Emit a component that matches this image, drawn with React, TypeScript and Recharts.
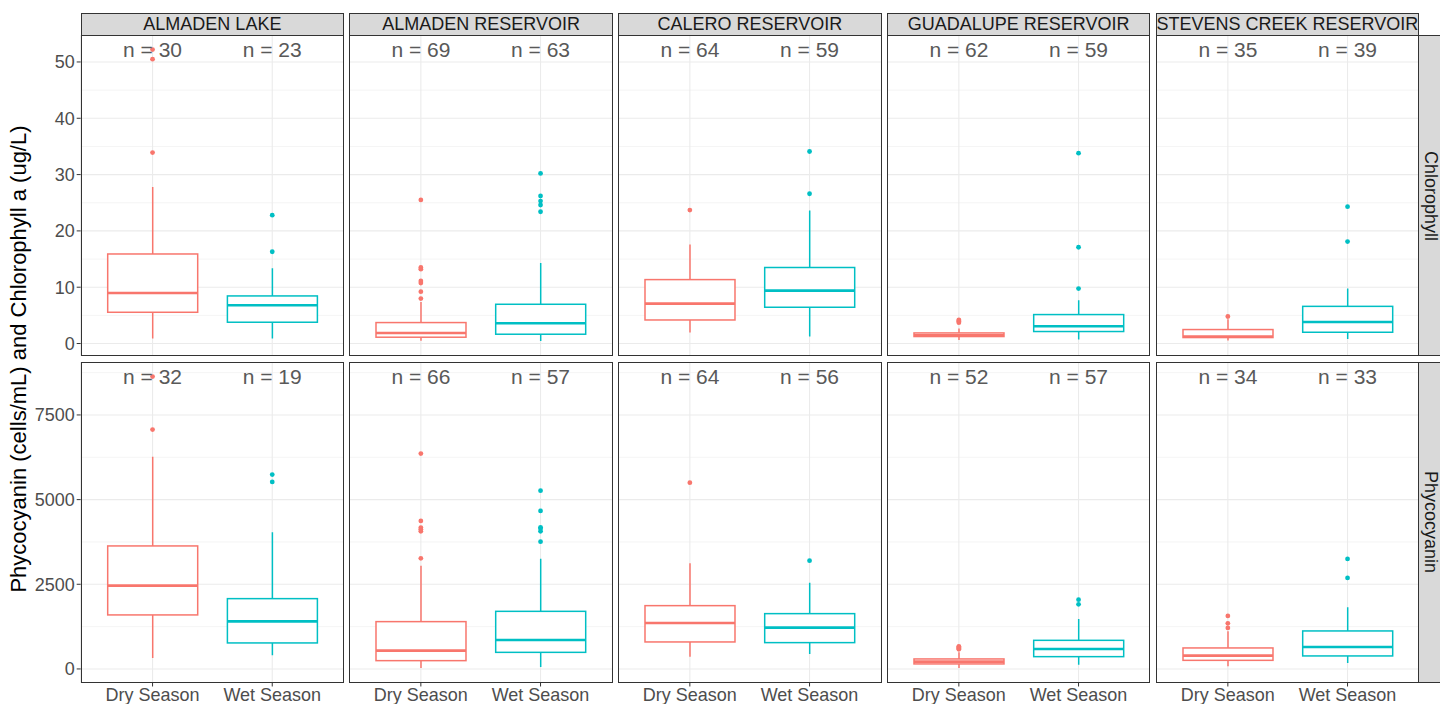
import React from "react";
import { ComposedChart, Bar, Scatter, XAxis, YAxis, CartesianGrid } from "recharts";

const sites = ["ALMADEN LAKE", "ALMADEN RESERVOIR", "CALERO RESERVOIR", "GUADALUPE RESERVOIR", "STEVENS CREEK RESERVOIR"];
const seasons = ["Dry Season", "Wet Season"];
const measures = ["Chlorophyll", "Phycocyanin"];

// Chlorophyll a (ug/L): one [dry, wet] pair per site
const chlLower = [[0.9, 0.9], [0.5, 0.46], [1.95, 1.24], [0.64, 0.71], [0.53, 0.82]];
const chlQ1 = [[5.55, 3.78], [1.12, 1.65], [4.18, 6.44], [1.24, 2.13], [1.06, 2.0]];
const chlMedian = [[8.97, 6.8], [1.88, 3.6], [7.09, 9.4], [1.47, 3.07], [1.24, 3.83]];
const chlQ3 = [[15.9, 8.45], [3.72, 6.97], [11.35, 13.5], [1.88, 5.14], [2.48, 6.6]];
const chlUpper = [[27.8, 13.35], [7.38, 14.3], [17.6, 23.6], [2.66, 7.68], [4.3, 9.75]];
const chlOutliers = [
  [[33.9, 50.5, 52.2], [16.3, 22.8]],
  [[7.98, 9.2, 10.75, 11.1, 13.2, 13.5, 25.5], [23.4, 24.6, 25.3, 26.2, 30.2]],
  [[23.7], [26.6, 34.1]],
  [[3.7, 3.9, 4.05, 4.2], [9.75, 17.1, 33.8]],
  [[4.8], [18.1, 24.3]],
];
const chlCounts = [[30, 23], [69, 63], [64, 59], [62, 59], [35, 39]];

// Phycocyanin (cells/mL)
const phyLower = [[325, 402], [30, 59], [363, 443], [30, 127], [77, 177]];
const phyQ1 = [[1595, 768], [245, 490], [797, 777], [148, 363], [254, 384]];
const phyMedian = [[2460, 1406], [540, 856], [1358, 1220], [216, 590], [393, 650]];
const phyQ3 = [[3632, 2076], [1397, 1701], [1869, 1633], [295, 845], [620, 1122]];
const phyUpper = [[6269, 4034], [3050, 3257], [3118, 2548], [490, 1476], [1110, 1819]];
const phyOutliers = [
  [[7067, 8633], [5522, 5738]],
  [[3266, 4063, 4122, 4173, 4370, 6358], [3759, 4063, 4143, 4182, 4666, 5265]],
  [[5501], [3198]],
  [[580, 610, 640, 667], [1908, 2046]],
  [[1211, 1347, 1565], [2687, 3248]],
];
const phyCounts = [[32, 19], [66, 57], [64, 56], [52, 57], [34, 33]];

const chlTicks = [0, 10, 20, 30, 40, 50];
const chlMinorTicks = [5, 15, 25, 35, 45];
const phyTicks = [0, 2500, 5000, 7500];
const phyMinorTicks = [1250, 3750, 6250, 8750];

const stats = [
  { lower: chlLower, q1: chlQ1, median: chlMedian, q3: chlQ3, upper: chlUpper, outliers: chlOutliers, counts: chlCounts, ticks: chlTicks, minor: chlMinorTicks },
  { lower: phyLower, q1: phyQ1, median: phyMedian, q3: phyQ3, upper: phyUpper, outliers: phyOutliers, counts: phyCounts, ticks: phyTicks, minor: phyMinorTicks },
];

const COLORS = ["#F8766D", "#00BFC4"];
const FONT = "'Liberation Sans', Arial, Helvetica, sans-serif";
const LEFT = 80.7;
const PANEL_W = 263.4;
const COL_STEP = 268.75;
const PANEL_H = 320.5;
const ROW_TOP = [35.3, 362.2];
const STRIP_TOP = 12.5;
const X_AXIS_H = 22;

// row-wide scale: data range padded by 5% on each side, like ggplot
function rowExtent(m: number) {
  const s = stats[m];
  const all: number[] = [];
  s.lower.forEach((p) => all.push(...p));
  s.upper.forEach((p) => all.push(...p));
  s.outliers.forEach((p) => p.forEach((o) => all.push(...o)));
  const lo = Math.min(...all);
  const hi = Math.max(...all);
  const pad = (hi - lo) * 0.05;
  return { domain: [lo - pad, hi + pad], top: hi };
}

const BoxShape = (props: any) => {
  const { x, y, width, height, payload, index } = props;
  const top = Math.min(y, y + height);
  const bottom = Math.max(y, y + height);
  const toY = (v: number) =>
    bottom - ((v - payload.lower) / (payload.upper - payload.lower)) * (bottom - top);
  const cx = x + width / 2;
  const color = COLORS[index % 2];
  return (
    <g stroke={color} fill="none">
      <line x1={cx} x2={cx} y1={toY(payload.upper)} y2={toY(payload.q3)} strokeWidth={1.5} />
      <line x1={cx} x2={cx} y1={toY(payload.q1)} y2={toY(payload.lower)} strokeWidth={1.5} />
      <rect x={x} y={toY(payload.q3)} width={width} height={toY(payload.q1) - toY(payload.q3)} fill="#ffffff" strokeWidth={1.5} />
      <line x1={x} x2={x + width} y1={toY(payload.median)} y2={toY(payload.median)} strokeWidth={2.6} />
    </g>
  );
};

const Panel = ({ m, c }: { m: number; c: number }) => {
  const s = stats[m];
  const { domain, top } = rowExtent(m);
  const boxes = seasons.map((season, i) => ({
    season,
    lower: s.lower[c][i],
    q1: s.q1[c][i],
    median: s.median[c][i],
    q3: s.q3[c][i],
    upper: s.upper[c][i],
  }));
  const labels = seasons.map((season, i) => ({ season, value: top, n: s.counts[c][i] }));
  const firstCol = c === 0;
  const bottomRow = m === 1;
  const width = PANEL_W + (firstCol ? LEFT : 0);
  const height = PANEL_H + (bottomRow ? X_AXIS_H : 0);
  const left = firstCol ? 0 : LEFT + c * COL_STEP;

  return (
    <div style={{ position: "absolute", left, top: ROW_TOP[m], width, height }}>
      <ComposedChart width={width} height={height} data={boxes} margin={{ top: 0, right: 0, bottom: 0, left: 0 }}>
        <CartesianGrid stroke="#EBEBEB" strokeWidth={1.1} />
        <CartesianGrid stroke="#EBEBEB" strokeWidth={0.55} vertical={false} horizontalValues={s.minor} />
        <XAxis
          dataKey="season"
          type="category"
          allowDuplicatedCategory={false}
          hide={!bottomRow}
          height={X_AXIS_H}
          padding={{ left: 12, right: 12 }}
          axisLine={false}
          tickSize={4}
          tickLine={{ stroke: "#333333" }}
          tick={{ fill: "#4D4D4D", fontSize: 18, fontFamily: FONT }}
        />
        <YAxis
          type="number"
          domain={domain}
          allowDataOverflow
          ticks={s.ticks}
          hide={!firstCol}
          width={LEFT}
          axisLine={false}
          tickSize={4}
          tickLine={{ stroke: "#333333" }}
          tick={{ fill: "#4D4D4D", fontSize: 18, fontFamily: FONT }}
        />
        <Bar
          dataKey={(d: any) => [d.lower, d.upper]}
          barSize={90}
          shape={BoxShape}
          isAnimationActive={false}
        />
        {seasons.map((season, i) => (
          <Scatter
            key={season}
            data={s.outliers[c][i].map((v) => ({ season, value: v }))}
            dataKey="value"
            isAnimationActive={false}
            shape={(p: any) => <circle cx={p.cx} cy={p.cy} r={2.4} fill={COLORS[i]} />}
          />
        ))}
        <Scatter
          data={labels}
          dataKey="value"
          isAnimationActive={false}
          shape={(p: any) => (
            <text x={p.cx} y={p.cy} textAnchor="middle" dominantBaseline="central" fontSize={21} fill="#595959" fontFamily={FONT}>
              {`n = ${p.payload.n}`}
            </text>
          )}
        />
      </ComposedChart>
    </div>
  );
};

export default function App() {
  return (
    <div style={{ position: "absolute", left: 0, top: 0, width: 1440, height: 704, background: "#ffffff", fontFamily: FONT, overflow: "hidden" }}>
      {measures.map((_, m) => sites.map((_, c) => <Panel key={`${m}-${c}`} m={m} c={c} />))}

      {/* panel frames */}
      {measures.map((_, m) =>
        sites.map((_, c) => (
          <div
            key={`f${m}-${c}`}
            style={{ position: "absolute", left: LEFT + c * COL_STEP, top: ROW_TOP[m], width: PANEL_W, height: PANEL_H, border: "1px solid #333333", boxSizing: "border-box", pointerEvents: "none" }}
          />
        ))
      )}

      {/* site strips */}
      {sites.map((site, c) => (
        <div
          key={site}
          style={{ position: "absolute", left: LEFT + c * COL_STEP, top: STRIP_TOP, width: PANEL_W, height: ROW_TOP[0] - STRIP_TOP + 1, background: "#D9D9D9", border: "1px solid #333333", boxSizing: "border-box", display: "flex", alignItems: "center", justifyContent: "center", fontSize: 18, color: "#1A1A1A", whiteSpace: "nowrap", overflow: "hidden" }}
        >
          {site}
        </div>
      ))}

      {/* measure strips */}
      {measures.map((name, m) => (
        <div
          key={name}
          style={{ position: "absolute", left: LEFT + 4 * COL_STEP + PANEL_W - 1, top: ROW_TOP[m], width: 23, height: PANEL_H, background: "#D9D9D9", border: "1px solid #333333", borderRight: "none", boxSizing: "border-box", display: "flex", alignItems: "center", justifyContent: "center", fontSize: 18, color: "#1A1A1A", writingMode: "vertical-rl", whiteSpace: "nowrap" }}
        >
          {name}
        </div>
      ))}

      <div
        style={{ position: "absolute", left: 19, top: (ROW_TOP[0] + ROW_TOP[1] + PANEL_H) / 2, transform: "translate(-50%, -50%) rotate(-90deg)", fontSize: 22, color: "#000000", whiteSpace: "nowrap" }}
      >
        Phycocyanin (cells/mL) and Chlorophyll a (ug/L)
      </div>
    </div>
  );
}
